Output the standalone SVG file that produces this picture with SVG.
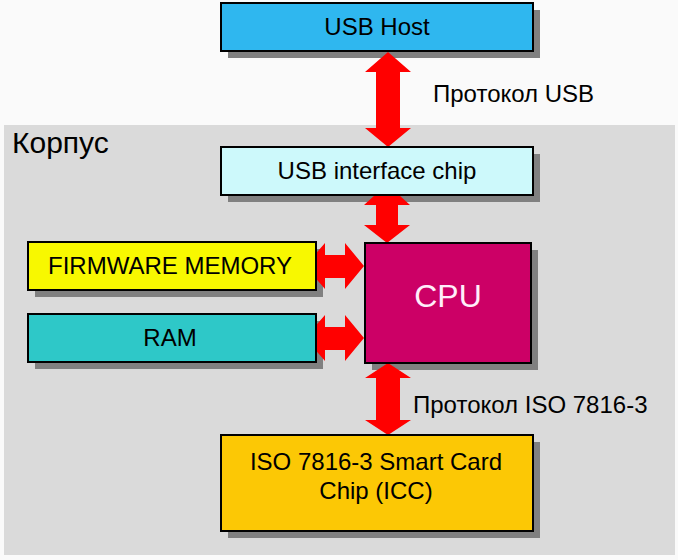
<svg xmlns="http://www.w3.org/2000/svg" width="678" height="560" viewBox="0 0 678 560">
<style>
.box{stroke:#000;stroke-width:2}
.sh{fill:#808080}
.t{font-family:"Liberation Sans",Arial,sans-serif;fill:#000;text-anchor:middle;dominant-baseline:central}
.lbl{font-family:"Liberation Sans",Arial,sans-serif;fill:#000;font-size:24px}
.arr{fill:#ff0000}
</style>
<rect x="0" y="0" width="678" height="560" fill="#fafafa"/>
<rect x="4" y="125" width="671" height="430" fill="#dadada"/>
<text x="12" y="153" style="font-family:'Liberation Sans',Arial,sans-serif;font-size:30px;fill:#000">Корпус</text>
<g id="shadows">
<rect class="sh" x="228" y="10" width="312" height="48"/>
<rect class="sh" x="228" y="154" width="312" height="48"/>
<rect class="sh" x="35" y="249" width="288" height="48"/>
<rect class="sh" x="35" y="321" width="288" height="48"/>
<rect class="sh" x="372" y="250" width="166" height="120"/>
<rect class="sh" x="228" y="442" width="312" height="96"/>
</g>
<g id="connectors">
<polygon class="arr" points="388,52 411,72 400,72 400,128 411,128 388,147 365,128 376,128 376,72 365,72"/>
<polygon class="arr" points="387,184 410,205 398,205 398,225 410,225 387,243 364,225 376,225 376,205 364,205"/>
<polygon class="arr" points="305,266 325,243 325,255 345,255 345,243 364,266 345,289 345,278 325,278 325,289"/>
<polygon class="arr" points="305,338 325,315 325,327 345,327 345,315 364,338 345,361 345,350 325,350 325,361"/>
<polygon class="arr" points="388,363 411,378 400,378 400,420 411,420 388,435 365,420 376,420 376,378 365,378"/>
</g>
<g id="usb-host">
<rect class="box" x="221" y="3" width="312" height="48" fill="#2fb7ef"/>
<text class="t" x="377" y="26" font-size="24">USB Host</text>
</g>
<g id="usb-interface">
<rect class="box" x="221" y="147" width="312" height="48" fill="#cdf9fb"/>
<text class="t" x="377" y="170" font-size="24">USB interface chip</text>
</g>
<g id="firmware">
<rect class="box" x="28" y="242" width="288" height="48" fill="#f8f800"/>
<text class="t" x="170" y="265" font-size="24">FIRMWARE MEMORY</text>
</g>
<g id="ram">
<rect class="box" x="28" y="314" width="288" height="48" fill="#2ec8c8"/>
<text class="t" x="170" y="337" font-size="24">RAM</text>
</g>
<g id="cpu">
<rect class="box" x="365" y="243" width="166" height="120" fill="#cc0066"/>
<text class="t" x="448" y="296" font-size="32" style="fill:#ffeefa">CPU</text>
</g>
<g id="iso-chip">
<rect class="box" x="221" y="435" width="312" height="96" fill="#fcc805"/>
<text class="t" x="376" y="461" font-size="24">ISO 7816-3 Smart Card</text>
<text class="t" x="376" y="490" font-size="24">Chip (ICC)</text>
</g>
<text class="lbl" x="433" y="102">Протокол USB</text>
<text class="lbl" x="413" y="413">Протокол ISO 7816-3</text>
</svg>
